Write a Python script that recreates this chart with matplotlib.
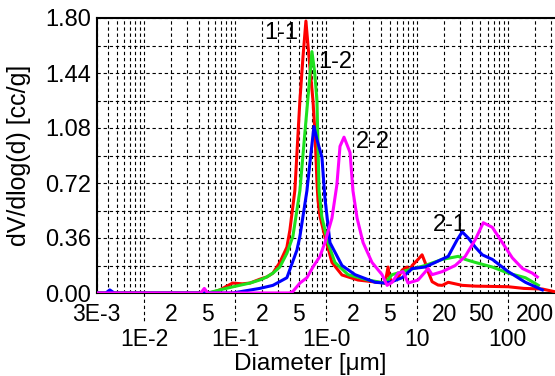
import matplotlib
matplotlib.use('Agg')
import matplotlib.pyplot as plt
import matplotlib.transforms as mtransforms

plt.rcParams['font.family'] = ['Liberation Sans', 'DejaVu Sans']

# ---- data (diameter in µm, dV/dlog(d) in cc/g) ----
d_11 = [0.003, 0.05, 0.057, 0.068, 0.094, 0.12, 0.146, 0.187, 0.224, 0.261, 0.311, 0.372,
        0.401, 0.455, 0.517, 0.56, 0.602, 0.65, 0.72, 0.757, 0.80, 0.82, 0.86, 0.975, 1.164,
        1.5, 2.25, 3.47, 4.47, 4.82, 5.0, 5.34, 6.2, 6.88, 7.81, 8.2, 8.87, 10.3, 11.4, 12.3,
        13.3, 14.7, 17.1, 19.0, 22.1, 26.4, 31.5, 43.9, 67.5, 101, 150, 240, 330]
v_11 = [0.0, 0.0, 0.005, 0.02, 0.065, 0.06, 0.065, 0.09, 0.105, 0.13, 0.2, 0.3,
        0.41, 0.67, 1.26, 1.55, 1.78, 1.55, 1.26, 1.05, 0.7, 0.6, 0.5, 0.37, 0.2,
        0.118, 0.085, 0.072, 0.065, 0.17, 0.1, 0.074, 0.1, 0.15, 0.17, 0.14, 0.18, 0.22, 0.25, 0.2,
        0.14, 0.074, 0.052, 0.05, 0.07, 0.06, 0.05, 0.045, 0.043, 0.041, 0.03, 0.026, 0.008]

d_12 = [0.003, 0.05, 0.068, 0.094, 0.146, 0.187, 0.224, 0.261, 0.311, 0.372, 0.433, 0.517,
        0.587, 0.65, 0.701, 0.75, 0.796, 0.84, 0.9, 1.05, 1.256, 1.75, 2.9, 4.47, 5.34, 8.0,
        12.3, 19.0, 28.5, 34.0, 44.0, 67.5, 101, 156, 217]
v_12 = [0.0, 0.0, 0.02, 0.04, 0.065, 0.085, 0.105, 0.13, 0.17, 0.26, 0.37, 0.67,
        1.05, 1.35, 1.58, 1.45, 1.26, 0.67, 0.5, 0.33, 0.2, 0.12, 0.085, 0.065, 0.12, 0.15,
        0.18, 0.22, 0.24, 0.22, 0.2, 0.17, 0.13, 0.1, 0.05]

d_21 = [0.003, 0.0038, 0.0042, 0.0047, 0.094, 0.187, 0.261, 0.372, 0.479, 0.517, 0.618,
        0.68, 0.738, 0.80, 0.903, 0.975, 1.05, 1.107, 1.5, 2.09, 3.47, 4.47, 5.34, 6.88, 8.87,
        12.3, 15.9, 22.1, 27.8, 31.5, 36.7, 43.9, 52.4, 67.5, 101, 156, 240]
v_21 = [0.0, 0.0, 0.02, 0.0, 0.0, 0.03, 0.05, 0.1, 0.28, 0.37, 0.67,
        0.9, 1.09, 1.0, 0.89, 0.62, 0.45, 0.33, 0.18, 0.12, 0.07, 0.065, 0.075, 0.1, 0.16,
        0.17, 0.2, 0.24, 0.35, 0.40, 0.36, 0.3, 0.25, 0.22, 0.14, 0.07, 0.02]

d_22 = [0.003, 0.042, 0.046, 0.05, 0.4, 0.433, 0.517, 0.618, 0.719, 0.859, 0.975, 1.164,
        1.32, 1.427, 1.58, 1.84, 1.98, 2.2, 2.56, 3.21, 4.14, 4.7, 5.34, 6.21, 7.05, 8.0,
        10.3, 13.3, 14.7, 19.0, 26.4, 34.0, 43.9, 53.7, 67.5, 86.9, 112, 145, 186, 211]
v_22 = [0.0, 0.0, 0.03, 0.0, 0.0, 0.01, 0.065, 0.1, 0.17, 0.24, 0.33, 0.49,
        0.71, 0.96, 1.02, 0.92, 0.67, 0.49, 0.33, 0.2, 0.12, 0.05, 0.07, 0.13, 0.14, 0.065,
        0.085, 0.16, 0.12, 0.14, 0.18, 0.24, 0.35, 0.46, 0.43, 0.33, 0.23, 0.16, 0.13, 0.105]

series = [("1-1", d_11, v_11, "#ff0000"),
          ("1-2", d_12, v_12, "#1ee11e"),
          ("2-1", d_21, v_21, "#0000ff"),
          ("2-2", d_22, v_22, "#ff00ff")]

# curve label positions (diameter, value)
label_pos = {"1-1": (0.32, 1.70), "1-2": (1.26, 1.51), "2-2": (3.3, 0.99), "2-1": (23.2, 0.445)}

major_x = [1e-2, 1e-1, 1.0, 10.0, 100.0]
major_x_labels = ["1E-2", "1E-1", "1E-0", "10", "100"]
minor_label_map = {3e-3: "3E-3", 2e-2: "2", 5e-2: "5", 0.2: "2", 0.5: "5",
                   2.0: "2", 5.0: "5", 20.0: "20", 50.0: "50", 200.0: "200"}
y_major = [0.0, 0.36, 0.72, 1.08, 1.44, 1.80]
y_minor = [0.18, 0.54, 0.90, 1.26, 1.62]

# ---- figure ----
fig = plt.figure(figsize=(5.55, 3.76), dpi=100)
ax = fig.add_axes([96.5 / 555, 83 / 376, 1 - 96.5 / 555, 275 / 376])

for name, d, v, c in series:
    ax.plot(d, v, color=c, lw=2.2, solid_joinstyle='round', zorder=3)

ax.set_xscale('log')
ax.set_xlim(3e-3, 330)
ax.set_ylim(0, 1.8)

minor_x = []
for e in range(-3, 3):
    for k in range(2, 10):
        val = round(k * 10.0 ** e, 6)
        if 3e-3 <= val <= 330:
            minor_x.append(val)
minor_lbls = []
for m in minor_x:
    lab = ""
    for key, s in minor_label_map.items():
        if abs(m - key) / key < 1e-6:
            lab = s
    minor_lbls.append(lab)

ax.set_xticks(major_x)
ax.set_xticklabels(major_x_labels)
ax.set_xticks(minor_x, minor=True)
ax.set_xticklabels(minor_lbls, minor=True)
ax.tick_params(axis='x', which='major', length=0, pad=25, labelsize=16.5)
ax.tick_params(axis='x', which='minor', length=0, pad=7.5, labelsize=16.5)

ax.set_yticks(y_major)
ax.set_yticklabels(["%.2f" % y for y in y_major])
ax.set_yticks(y_minor, minor=True)
ax.tick_params(axis='y', which='both', length=0, pad=4, labelsize=17)

ax.grid(True, which='both', axis='both', color='black', lw=0.8, ls=(0, (3, 2.5)), zorder=1)
ax.set_axisbelow(True)

for side in ['left', 'bottom', 'top']:
    ax.spines[side].set_linewidth(1.5)
    ax.spines[side].set_color('black')
ax.spines['right'].set_visible(False)

# dashed decade ticks below the axis
trans = mtransforms.blended_transform_factory(ax.transData, ax.transAxes)
for mx in major_x:
    ax.plot([mx, mx], [0, -0.11], transform=trans, color='black', lw=0.8,
            ls=(0, (3, 2.5)), clip_on=False)

for name, d, v, c in series:
    px, py = label_pos[name]
    ax.text(px, py, name, fontsize=17, ha='center', va='center', color='black', zorder=4)

fig.text(19 / 555, 1 - 155 / 376, "dV/dlog(d) [cc/g]", rotation=90, ha='center', va='center',
         fontsize=18)
fig.text(310 / 555, 1 - 364 / 376, "Diameter [\u03bcm]", ha='center', va='center', fontsize=17.5)

fig.savefig("out.png", dpi=100)
